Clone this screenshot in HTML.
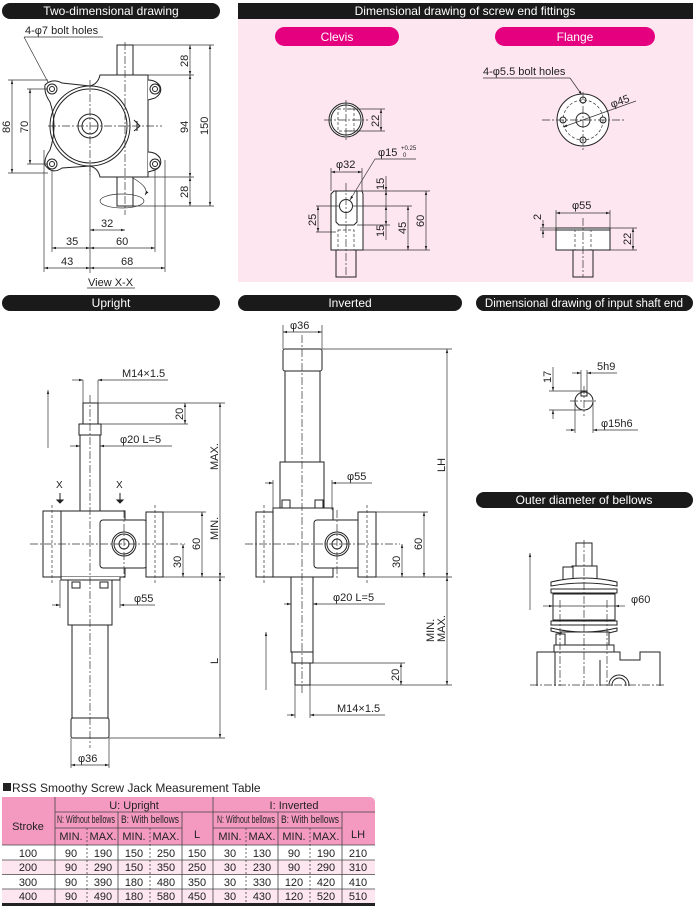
<!DOCTYPE html>
<html><head><meta charset="utf-8">
<style>
html,body{margin:0;padding:0;background:#fff;}
svg{display:block;font-family:"Liberation Sans",sans-serif;}
.l{fill:none;stroke:#222;stroke-width:1}
.w{fill:#fff;stroke:#222;stroke-width:1}
.c{fill:none;stroke:#333;stroke-width:0.7;stroke-dasharray:8 2 2 2}
.d{fill:none;stroke:#333;stroke-width:0.7}
.dash{fill:none;stroke:#333;stroke-width:0.7;stroke-dasharray:3 2}
text{fill:#222;font-size:11px}
.h{fill:#fff;font-size:12px}
</style></head><body>
<svg width="693" height="908" viewBox="0 0 693 908" xmlns="http://www.w3.org/2000/svg">
<defs>
<marker id="a" viewBox="0 0 10 10" refX="10" refY="5" markerWidth="6" markerHeight="6" orient="auto-start-reverse"><path d="M0,2 L10,5 L0,8 z" fill="#222"/></marker>
<clipPath id="bc"><rect x="520" y="530" width="160" height="156"/></clipPath>
</defs>

<!-- headers -->
<rect x="2" y="3" width="218" height="16" rx="8" fill="#1a1a1a"/>
<text x="111" y="15" text-anchor="middle" class="h">Two-dimensional drawing</text>
<rect x="238" y="19" width="455" height="263" fill="#fde6ef"/>
<rect x="238" y="3" width="455" height="16" fill="#1a1a1a"/>
<text x="465" y="15" text-anchor="middle" class="h">Dimensional drawing of screw end fittings</text>
<rect x="275" y="27" width="124" height="19" rx="9.5" fill="#e4007f"/>
<text x="337" y="41" text-anchor="middle" class="h">Clevis</text>
<rect x="495" y="27" width="160" height="19" rx="9.5" fill="#e4007f"/>
<text x="575" y="41" text-anchor="middle" class="h">Flange</text>

<rect x="2" y="295" width="218" height="16" rx="8" fill="#1a1a1a"/>
<text x="111" y="307" text-anchor="middle" class="h">Upright</text>
<rect x="238" y="295" width="224" height="16" rx="8" fill="#1a1a1a"/>
<text x="350" y="307" text-anchor="middle" class="h">Inverted</text>
<rect x="476" y="295" width="217" height="16" rx="8" fill="#1a1a1a"/>
<text x="584" y="307" text-anchor="middle" class="h" style="font-size:11.5px">Dimensional drawing of input shaft end</text>
<rect x="476" y="492" width="217" height="16" rx="8" fill="#1a1a1a"/>
<text x="584" y="504" text-anchor="middle" class="h">Outer diameter of bellows</text>

<!-- ===== Two-dimensional drawing ===== -->
<text x="25" y="34">4-φ7 bolt holes</text>
<line class="d" x1="24" y1="37" x2="103" y2="37"/>
<line class="d" x1="24" y1="37" x2="50" y2="86"/>
<rect class="w" x="117" y="45" width="16" height="30"/>
<rect class="w" x="117" y="177" width="16" height="29"/>
<path class="w" d="M100,75 L148,75 L148,177 L100,177 Q98,168 90,166 L62,168 Q52,175 45,165 Q44,158 50,150 Q58,126 50,102 Q44,94 45,85 Q52,78 62,83 L90,86 Q98,84 100,75 Z"/>
<path class="w" d="M148,80 Q156,80 160,86 Q163,93 155,98 Q148,100 148,100 M148,152 Q156,152 160,158 Q163,166 155,170 Q148,172 148,172"/>
<circle class="l" cx="90" cy="126" r="40"/>
<circle class="l" cx="90" cy="126" r="37"/>
<circle class="l" cx="90" cy="126" r="12"/>
<circle class="l" cx="90" cy="126" r="8"/>
<circle class="l" cx="52" cy="89" r="5"/><circle class="l" cx="52" cy="89" r="2.5"/>
<circle class="l" cx="155" cy="89" r="5"/><circle class="l" cx="155" cy="89" r="2.5"/>
<circle class="l" cx="52" cy="164" r="5"/><circle class="l" cx="52" cy="164" r="2.5"/>
<circle class="l" cx="155" cy="164" r="5"/><circle class="l" cx="155" cy="164" r="2.5"/>
<path class="l" d="M134,120 L140,126 L134,131 M137,121 L137,131"/>
<line class="c" x1="48" y1="126" x2="162" y2="126"/>
<line class="c" x1="125" y1="42" x2="125" y2="215"/>
<line class="c" x1="90" y1="80" x2="90" y2="175"/>
<path class="d" d="M133,178 Q150,188 145,195" marker-end="url(#a)"/>
<ellipse class="d" cx="122" cy="201" rx="22" ry="7"/>
<line class="d" x1="12" y1="80" x2="12" y2="173" marker-start="url(#a)" marker-end="url(#a)"/>
<line class="d" x1="8" y1="80" x2="48" y2="80"/><line class="d" x1="8" y1="173" x2="48" y2="173"/>
<text x="0" y="0" transform="translate(10,133) rotate(-90)">86</text>
<line class="d" x1="30" y1="89" x2="30" y2="164" marker-start="url(#a)" marker-end="url(#a)"/>
<line class="d" x1="27" y1="89" x2="48" y2="89"/><line class="d" x1="27" y1="164" x2="48" y2="164"/>
<text transform="translate(28,133) rotate(-90)">70</text>
<line class="d" x1="133" y1="45" x2="214" y2="45"/><line class="d" x1="148" y1="75" x2="194" y2="75"/><line class="d" x1="148" y1="177" x2="194" y2="177"/><line class="d" x1="133" y1="206" x2="214" y2="206"/>
<line class="d" x1="190" y1="45" x2="190" y2="75" marker-start="url(#a)" marker-end="url(#a)"/>
<line class="d" x1="190" y1="75" x2="190" y2="177" marker-start="url(#a)" marker-end="url(#a)"/>
<line class="d" x1="190" y1="177" x2="190" y2="206" marker-start="url(#a)" marker-end="url(#a)"/>
<line class="d" x1="210" y1="45" x2="210" y2="206" marker-start="url(#a)" marker-end="url(#a)"/>
<text transform="translate(188,67) rotate(-90)">28</text>
<text transform="translate(188,133) rotate(-90)">94</text>
<text transform="translate(188,198) rotate(-90)">28</text>
<text transform="translate(208,135) rotate(-90)">150</text>
<line class="d" x1="90" y1="166" x2="90" y2="273"/>
<line class="d" x1="52" y1="170" x2="52" y2="252"/><line class="d" x1="155" y1="170" x2="155" y2="252"/>
<line class="d" x1="44" y1="150" x2="44" y2="272"/><line class="d" x1="165" y1="160" x2="165" y2="272"/>
<line class="d" x1="90" y1="230" x2="125" y2="230" marker-start="url(#a)" marker-end="url(#a)"/>
<text x="101" y="227">32</text>
<line class="d" x1="52" y1="248" x2="90" y2="248" marker-start="url(#a)" marker-end="url(#a)"/>
<line class="d" x1="90" y1="248" x2="155" y2="248" marker-start="url(#a)" marker-end="url(#a)"/>
<text x="66" y="245">35</text><text x="116" y="245">60</text>
<line class="d" x1="44" y1="268" x2="90" y2="268" marker-start="url(#a)" marker-end="url(#a)"/>
<line class="d" x1="90" y1="268" x2="165" y2="268" marker-start="url(#a)" marker-end="url(#a)"/>
<text x="61" y="265">43</text><text x="121" y="265">68</text>
<text x="88" y="286">View X-X</text>
<line class="d" x1="87" y1="288" x2="135" y2="288"/>

<!-- ===== Clevis ===== -->
<circle class="w" cx="346" cy="120" r="17"/>
<circle class="l" cx="346" cy="120" r="15"/>
<rect class="dash" x="338" y="109" width="16" height="22"/>
<line class="c" x1="324" y1="120" x2="368" y2="120"/><line class="c" x1="346" y1="100" x2="346" y2="140"/>
<line class="d" x1="346" y1="109" x2="385" y2="109"/><line class="d" x1="346" y1="131" x2="385" y2="131"/>
<line class="d" x1="381" y1="109" x2="381" y2="131" marker-start="url(#a)" marker-end="url(#a)"/>
<text transform="translate(379,127) rotate(-90)">22</text>
<rect class="l" x="336" y="250" width="20" height="27"/>
<path class="w" d="M334,191 L362,191 L363,194 L363,250 L331,250 L331,194 Z"/>
<path class="l" d="M336,191 L336,222 L339,225 L354,225 L357,222 L357,191"/>
<circle class="l" cx="346" cy="206" r="6.5"/>
<rect class="dash" x="338" y="230" width="16" height="20"/>
<line class="c" x1="346" y1="183" x2="346" y2="277"/>
<line class="d" x1="331" y1="168" x2="331" y2="191"/><line class="d" x1="362" y1="168" x2="362" y2="191"/>
<line class="d" x1="331" y1="172" x2="362" y2="172" marker-start="url(#a)" marker-end="url(#a)"/>
<text x="336" y="168">φ32</text>
<text x="378" y="156">φ15</text><text x="401" y="150" style="font-size:6px">+0.25</text><text x="403" y="157" style="font-size:6px">0</text>
<line class="d" x1="375" y1="159" x2="416" y2="159"/><line class="d" x1="375" y1="159" x2="350" y2="200" marker-end="url(#a)"/>
<line class="d" x1="357" y1="191" x2="430" y2="191"/><line class="d" x1="352" y1="206" x2="412" y2="206"/><line class="d" x1="357" y1="225" x2="390" y2="225"/><line class="d" x1="363" y1="250" x2="430" y2="250"/>
<line class="d" x1="386" y1="176" x2="386" y2="191" marker-end="url(#a)"/>
<line class="d" x1="386" y1="206" x2="386" y2="191" marker-end="url(#a)"/>
<line class="d" x1="386" y1="206" x2="386" y2="225" marker-start="url(#a)" marker-end="url(#a)"/>
<line class="d" x1="386" y1="225" x2="386" y2="240"/>
<text transform="translate(384,190) rotate(-90)">15</text>
<text transform="translate(384,237) rotate(-90)">15</text>
<line class="d" x1="408" y1="206" x2="408" y2="250" marker-start="url(#a)" marker-end="url(#a)"/>
<text transform="translate(406,234) rotate(-90)">45</text>
<line class="d" x1="426" y1="191" x2="426" y2="250" marker-start="url(#a)" marker-end="url(#a)"/>
<text transform="translate(424,227) rotate(-90)">60</text>
<line class="d" x1="316" y1="206" x2="340" y2="206"/><line class="d" x1="316" y1="232" x2="336" y2="232"/>
<line class="d" x1="318" y1="206" x2="318" y2="232" marker-start="url(#a)" marker-end="url(#a)"/>
<text transform="translate(316,226) rotate(-90)">25</text>

<!-- ===== Flange ===== -->
<text x="483" y="75">4-φ5.5 bolt holes</text>
<line class="d" x1="483" y1="78" x2="570" y2="78"/><line class="d" x1="570" y1="78" x2="582" y2="95" marker-end="url(#a)"/>
<circle class="w" cx="583" cy="120" r="26"/>
<circle class="dash" cx="583" cy="120" r="20"/>
<circle class="l" cx="583" cy="120" r="7"/>
<circle class="l" cx="583" cy="100" r="3"/><circle class="l" cx="583" cy="140" r="3"/>
<circle class="l" cx="563" cy="120" r="3"/><circle class="l" cx="603" cy="120" r="3"/>
<line class="c" x1="542" y1="120" x2="626" y2="120"/><line class="c" x1="583" y1="92" x2="583" y2="150"/>
<line class="d" x1="563" y1="127" x2="636" y2="101" marker-start="url(#a)"/>
<text transform="translate(612,108) rotate(-20)">φ45</text>
<rect class="l" x="573" y="250" width="20" height="27"/>
<rect class="w" x="556" y="228" width="54" height="22"/>
<line class="l" x1="556" y1="230" x2="610" y2="230"/>
<rect class="dash" x="575" y="230" width="16" height="20"/>
<line class="c" x1="583" y1="218" x2="583" y2="277"/>
<line class="d" x1="556" y1="210" x2="556" y2="228"/><line class="d" x1="610" y1="210" x2="610" y2="228"/>
<line class="d" x1="556" y1="213" x2="610" y2="213" marker-start="url(#a)" marker-end="url(#a)"/>
<text x="572" y="209">φ55</text>
<line class="d" x1="610" y1="228" x2="637" y2="228"/><line class="d" x1="610" y1="250" x2="637" y2="250"/>
<line class="d" x1="633" y1="228" x2="633" y2="250" marker-start="url(#a)" marker-end="url(#a)"/>
<text transform="translate(631,245) rotate(-90)">22</text>
<line class="d" x1="540" y1="228" x2="556" y2="228"/><line class="d" x1="540" y1="230" x2="556" y2="230"/>
<line class="d" x1="543" y1="220" x2="543" y2="228" marker-end="url(#a)"/><line class="d" x1="543" y1="238" x2="543" y2="230" marker-end="url(#a)"/>
<text transform="translate(541,220) rotate(-90)">2</text>

<!-- ===== Upright ===== -->
<line class="d" x1="48" y1="448" x2="48" y2="390" marker-end="url(#a)"/>
<rect class="w" x="83" y="403" width="15" height="21"/>
<rect class="w" x="79" y="424" width="22" height="11"/>
<rect class="w" x="80" y="435" width="20" height="76"/>
<rect class="w" x="68" y="580" width="44" height="45"/>
<rect class="w" x="72" y="625" width="36" height="93"/>
<rect class="w" x="71" y="718" width="38" height="20" rx="2"/>
<rect class="w" x="43" y="511" width="18" height="66"/>
<rect class="w" x="61" y="511" width="64" height="66"/>
<path class="w" d="M61,577 L61,580 L120,580 L120,577"/>
<rect class="w" x="100" y="520" width="47" height="48" rx="3"/>
<rect class="w" x="146" y="512" width="17" height="65"/>
<circle class="l" cx="124" cy="544" r="12"/><circle class="l" cx="124" cy="544" r="10"/><circle class="l" cx="124" cy="544" r="5"/>
<rect class="l" x="72" y="582" width="8" height="6"/><rect class="l" x="100" y="582" width="8" height="6"/>
<line class="dash" x1="52" y1="505" x2="52" y2="585"/><line class="dash" x1="155" y1="505" x2="155" y2="585"/>
<line class="c" x1="90" y1="395" x2="90" y2="748"/>
<line class="c" x1="30" y1="544" x2="185" y2="544"/>
<line class="c" x1="124" y1="510" x2="124" y2="578"/>
<text x="56" y="488" style="font-size:10px">X</text><text x="116" y="488" style="font-size:10px">X</text>
<path d="M60,493 L60,500 M57,500 L63,500 L60,503 Z" stroke="#222" fill="#222"/>
<path d="M120,493 L120,500 M117,500 L123,500 L120,503 Z" stroke="#222" fill="#222"/>
<line class="d" x1="83" y1="380" x2="83" y2="403"/><line class="d" x1="98" y1="380" x2="98" y2="403"/>
<line class="d" x1="72" y1="380" x2="83" y2="380" marker-end="url(#a)"/>
<line class="d" x1="168" y1="380" x2="98" y2="380" marker-end="url(#a)"/>
<text x="122" y="377">M14×1.5</text>
<line class="d" x1="98" y1="403" x2="225" y2="403"/><line class="d" x1="101" y1="424" x2="188" y2="424"/>
<line class="d" x1="185" y1="403" x2="185" y2="424" marker-start="url(#a)" marker-end="url(#a)"/>
<text transform="translate(183,420) rotate(-90)">20</text>
<line class="d" x1="70" y1="446" x2="80" y2="446" marker-end="url(#a)"/>
<line class="d" x1="172" y1="446" x2="100" y2="446" marker-end="url(#a)"/>
<text x="120" y="443">φ20   L=5</text>
<line class="d" x1="220" y1="403" x2="220" y2="577" marker-start="url(#a)" marker-end="url(#a)"/>
<text transform="translate(218,470) rotate(-90)">MAX.</text>
<line class="d" x1="163" y1="512" x2="206" y2="512"/><line class="d" x1="163" y1="577" x2="225" y2="577"/>
<line class="d" x1="202" y1="512" x2="202" y2="577" marker-start="url(#a)" marker-end="url(#a)"/>
<text transform="translate(218,540) rotate(-90)">MIN.</text>
<text transform="translate(200,550) rotate(-90)">60</text>
<line class="d" x1="183" y1="544" x2="183" y2="577" marker-start="url(#a)" marker-end="url(#a)"/>
<text transform="translate(181,568) rotate(-90)">30</text>
<line class="d" x1="60" y1="580" x2="60" y2="608"/><line class="d" x1="120" y1="580" x2="120" y2="608"/>
<line class="d" x1="52" y1="605" x2="60" y2="605" marker-end="url(#a)"/>
<line class="d" x1="155" y1="605" x2="120" y2="605" marker-end="url(#a)"/>
<text x="134" y="602">φ55</text>
<line class="d" x1="109" y1="738" x2="225" y2="738"/>
<line class="d" x1="220" y1="577" x2="220" y2="738" marker-start="url(#a)" marker-end="url(#a)"/>
<text transform="translate(218,664) rotate(-90)">L</text>
<line class="d" x1="71" y1="738" x2="71" y2="768"/><line class="d" x1="109" y1="738" x2="109" y2="768"/>
<line class="d" x1="71" y1="765" x2="109" y2="765" marker-start="url(#a)" marker-end="url(#a)"/>
<text x="78" y="762">φ36</text>

<!-- ===== Inverted ===== -->
<line class="d" x1="266" y1="690" x2="266" y2="632" marker-end="url(#a)"/>
<rect class="w" x="285" y="371" width="35" height="91"/>
<rect class="w" x="283" y="349" width="39" height="22" rx="2"/>
<rect class="w" x="280" y="462" width="44" height="46"/>
<rect class="w" x="291" y="577" width="22" height="75"/>
<rect class="w" x="292" y="652" width="21" height="11"/>
<rect class="w" x="295" y="663" width="15" height="22"/>
<rect class="w" x="256" y="512" width="17" height="65"/>
<path class="w" d="M273,508 L333,508 L333,577 L273,577 Z"/>
<rect class="w" x="314" y="520" width="46" height="48" rx="3"/>
<rect class="w" x="358" y="512" width="18" height="65"/>
<rect class="l" x="282" y="500" width="8" height="8"/><rect class="l" x="315" y="500" width="8" height="8"/>
<circle class="l" cx="337" cy="544" r="12"/><circle class="l" cx="337" cy="544" r="10"/><circle class="l" cx="337" cy="544" r="5"/>
<line class="dash" x1="264" y1="505" x2="264" y2="585"/><line class="dash" x1="367" y1="505" x2="367" y2="585"/>
<line class="c" x1="302" y1="335" x2="302" y2="695"/>
<line class="c" x1="245" y1="544" x2="400" y2="544"/>
<line class="c" x1="337" y1="510" x2="337" y2="578"/>
<line class="d" x1="283" y1="325" x2="283" y2="349"/><line class="d" x1="322" y1="325" x2="322" y2="349"/>
<line class="d" x1="283" y1="332" x2="322" y2="332" marker-start="url(#a)" marker-end="url(#a)"/>
<text x="290" y="329">φ36</text>
<line class="d" x1="322" y1="349" x2="452" y2="349"/>
<line class="d" x1="447" y1="349" x2="447" y2="577" marker-start="url(#a)" marker-end="url(#a)"/>
<text transform="translate(445,472) rotate(-90)">LH</text>
<line class="d" x1="273" y1="480" x2="273" y2="510"/><line class="d" x1="332" y1="480" x2="332" y2="510"/>
<line class="d" x1="265" y1="483" x2="273" y2="483" marker-end="url(#a)"/>
<line class="d" x1="372" y1="483" x2="332" y2="483" marker-end="url(#a)"/>
<text x="347" y="480">φ55</text>
<line class="d" x1="376" y1="512" x2="428" y2="512"/><line class="d" x1="376" y1="577" x2="452" y2="577"/>
<line class="d" x1="424" y1="512" x2="424" y2="577" marker-start="url(#a)" marker-end="url(#a)"/>
<text transform="translate(422,550) rotate(-90)">60</text>
<line class="d" x1="402" y1="544" x2="402" y2="577" marker-start="url(#a)" marker-end="url(#a)"/>
<text transform="translate(400,568) rotate(-90)">30</text>
<line class="d" x1="284" y1="604" x2="291" y2="604" marker-end="url(#a)"/>
<line class="d" x1="385" y1="604" x2="313" y2="604" marker-end="url(#a)"/>
<text x="333" y="601">φ20   L=5</text>
<line class="d" x1="313" y1="663" x2="405" y2="663"/><line class="d" x1="310" y1="685" x2="452" y2="685"/>
<line class="d" x1="401" y1="663" x2="401" y2="685" marker-start="url(#a)" marker-end="url(#a)"/>
<text transform="translate(399,681) rotate(-90)">20</text>
<line class="d" x1="447" y1="577" x2="447" y2="685" marker-start="url(#a)" marker-end="url(#a)"/>
<text transform="translate(434,642) rotate(-90)">MIN.</text>
<text transform="translate(445,642) rotate(-90)">MAX.</text>
<line class="d" x1="295" y1="685" x2="295" y2="718"/><line class="d" x1="310" y1="685" x2="310" y2="718"/>
<line class="d" x1="287" y1="715" x2="295" y2="715" marker-end="url(#a)"/>
<line class="d" x1="385" y1="715" x2="310" y2="715" marker-end="url(#a)"/>
<text x="337" y="712">M14×1.5</text>

<!-- ===== Input shaft end ===== -->
<circle class="w" cx="584" cy="401" r="9"/>
<rect class="l" x="581" y="391" width="6" height="5"/>
<line class="c" x1="570" y1="401" x2="598" y2="401"/><line class="c" x1="584" y1="386" x2="584" y2="416"/>
<line class="d" x1="581" y1="370" x2="581" y2="391"/><line class="d" x1="587" y1="370" x2="587" y2="391"/>
<line class="d" x1="572" y1="373" x2="581" y2="373" marker-end="url(#a)"/>
<line class="d" x1="617" y1="373" x2="587" y2="373" marker-end="url(#a)"/>
<text x="597" y="370">5h9</text>
<line class="d" x1="549" y1="391" x2="581" y2="391"/><line class="d" x1="549" y1="410" x2="584" y2="410"/>
<line class="d" x1="553" y1="367" x2="553" y2="391" marker-end="url(#a)"/>
<line class="d" x1="553" y1="419" x2="553" y2="410" marker-end="url(#a)"/>
<text transform="translate(551,383) rotate(-90)">17</text>
<line class="d" x1="575" y1="402" x2="575" y2="433"/><line class="d" x1="593" y1="402" x2="593" y2="433"/>
<line class="d" x1="566" y1="430" x2="575" y2="430" marker-end="url(#a)"/>
<line class="d" x1="638" y1="430" x2="593" y2="430" marker-end="url(#a)"/>
<text x="601" y="427">φ15h6</text>

<!-- ===== Bellows ===== -->
<line class="d" x1="530" y1="610" x2="530" y2="553" marker-end="url(#a)"/>
<g clip-path="url(#bc)">
<rect class="w" x="576" y="543" width="16" height="23"/>
<rect class="w" x="572" y="566" width="25" height="14"/>
<rect class="w" x="563" y="567" width="10" height="13"/>
<path class="w" d="M551,582 Q584,574 617,582 L617,586 Q584,580 551,586 Z"/>
<path class="w" d="M551,589 L617,589 L617,593 L551,593 Z"/>
<rect class="w" x="553" y="594" width="62" height="26"/>
<path class="w" d="M551,621 L617,621 L617,625 L551,625 Z"/>
<path class="w" d="M551,628 Q584,636 617,628 L617,631 Q584,640 551,631 Z"/>
<rect class="w" x="561" y="632" width="48" height="13"/>
<rect class="w" x="556" y="634" width="9" height="13"/>
<rect class="w" x="554" y="645" width="60" height="7"/>
<path class="l" d="M537,690 L537,652 L554,652 M614,652 L620,652 L620,660 L640,660 L640,652 L660,652 L660,690"/>
<path class="l" d="M555,652 L555,690 M600,660 L600,690"/>
<circle class="l" cx="619" cy="685" r="10"/><circle class="l" cx="619" cy="685" r="7"/>
<line class="c" x1="584" y1="540" x2="584" y2="690"/>
<line class="c" x1="560" y1="600" x2="560" y2="690"/><line class="c" x1="607" y1="600" x2="607" y2="690"/>
<line class="c" x1="530" y1="685" x2="665" y2="685"/>
</g>
<line class="d" x1="543" y1="606" x2="553" y2="606" marker-end="url(#a)"/>
<line class="d" x1="625" y1="606" x2="615" y2="606" marker-end="url(#a)"/>
<line class="d" x1="553" y1="606" x2="615" y2="606"/>
<text x="631" y="603">φ60</text>

<!-- ===== Table ===== -->
<rect x="3" y="783" width="8" height="8" fill="#222"/>
<text x="12" y="792" style="font-size:12px">RSS Smoothy Screw Jack Measurement Table</text>
<path d="M2,797 L369,797 Q375,797 375,803 L375,845 L2,845 Z" fill="#f49ac1"/>
<rect x="2" y="860" width="373" height="14.5" fill="#fde6ef"/>
<rect x="2" y="889" width="373" height="14.5" fill="#fde6ef"/>
<g stroke="#444" stroke-width="0.8" fill="none">
<line x1="55" y1="797" x2="55" y2="903"/>
<line x1="213" y1="797" x2="213" y2="903"/>
<line x1="182" y1="812" x2="182" y2="903"/>
<line x1="342" y1="812" x2="342" y2="903"/>
<line x1="118" y1="812" x2="118" y2="903"/>
<line x1="278" y1="812" x2="278" y2="903"/>
<line x1="55" y1="812" x2="375" y2="812"/>
<line x1="55" y1="828" x2="182" y2="828"/>
<line x1="213" y1="828" x2="342" y2="828"/>
<line x1="2" y1="845" x2="375" y2="845"/>
<line x1="2" y1="860" x2="375" y2="860"/>
<line x1="2" y1="874.5" x2="375" y2="874.5"/>
<line x1="2" y1="889" x2="375" y2="889"/>
<g stroke-dasharray="2 2">
<line x1="87" y1="828" x2="87" y2="903"/><line x1="150" y1="828" x2="150" y2="903"/>
<line x1="246" y1="828" x2="246" y2="903"/><line x1="310" y1="828" x2="310" y2="903"/>
</g>
</g>
<rect x="2" y="903" width="373" height="3" fill="#222"/>
<g style="font-size:12px" text-anchor="middle">
<text x="134" y="809">U: Upright</text><text x="294" y="809">I: Inverted</text>
<text x="28" y="830">Stroke</text>
<text x="197" y="838" style="font-size:11px">L</text><text x="358" y="838" style="font-size:11px">LH</text>
</g>
<g style="font-size:8px" text-anchor="middle">
<text x="86" y="823" textLength="58" lengthAdjust="spacingAndGlyphs">N: Without bellows</text>
<text x="150" y="823" textLength="58" lengthAdjust="spacingAndGlyphs">B: With bellows</text>
<text x="246" y="823" textLength="58" lengthAdjust="spacingAndGlyphs">N: Without bellows</text>
<text x="310" y="823" textLength="58" lengthAdjust="spacingAndGlyphs">B: With bellows</text>
</g>
<g style="font-size:10px" text-anchor="middle">
<text x="71" y="840">MIN.</text><text x="103" y="840">MAX.</text><text x="134" y="840">MIN.</text><text x="166" y="840">MAX.</text>
<text x="230" y="840">MIN.</text><text x="262" y="840">MAX.</text><text x="294" y="840">MIN.</text><text x="326" y="840">MAX.</text>
</g>
<g style="font-size:11px" text-anchor="middle">
<text x="28" y="857">100</text><text x="71" y="857">90</text><text x="103" y="857">190</text><text x="134" y="857">150</text><text x="166" y="857">250</text><text x="197" y="857">150</text><text x="230" y="857">30</text><text x="262" y="857">130</text><text x="294" y="857">90</text><text x="326" y="857">190</text><text x="358" y="857">210</text>
<text x="28" y="871">200</text><text x="71" y="871">90</text><text x="103" y="871">290</text><text x="134" y="871">150</text><text x="166" y="871">350</text><text x="197" y="871">250</text><text x="230" y="871">30</text><text x="262" y="871">230</text><text x="294" y="871">90</text><text x="326" y="871">290</text><text x="358" y="871">310</text>
<text x="28" y="886">300</text><text x="71" y="886">90</text><text x="103" y="886">390</text><text x="134" y="886">180</text><text x="166" y="886">480</text><text x="197" y="886">350</text><text x="230" y="886">30</text><text x="262" y="886">330</text><text x="294" y="886">120</text><text x="326" y="886">420</text><text x="358" y="886">410</text>
<text x="28" y="900">400</text><text x="71" y="900">90</text><text x="103" y="900">490</text><text x="134" y="900">180</text><text x="166" y="900">580</text><text x="197" y="900">450</text><text x="230" y="900">30</text><text x="262" y="900">430</text><text x="294" y="900">120</text><text x="326" y="900">520</text><text x="358" y="900">510</text>
</g>
</svg>
</body></html>
